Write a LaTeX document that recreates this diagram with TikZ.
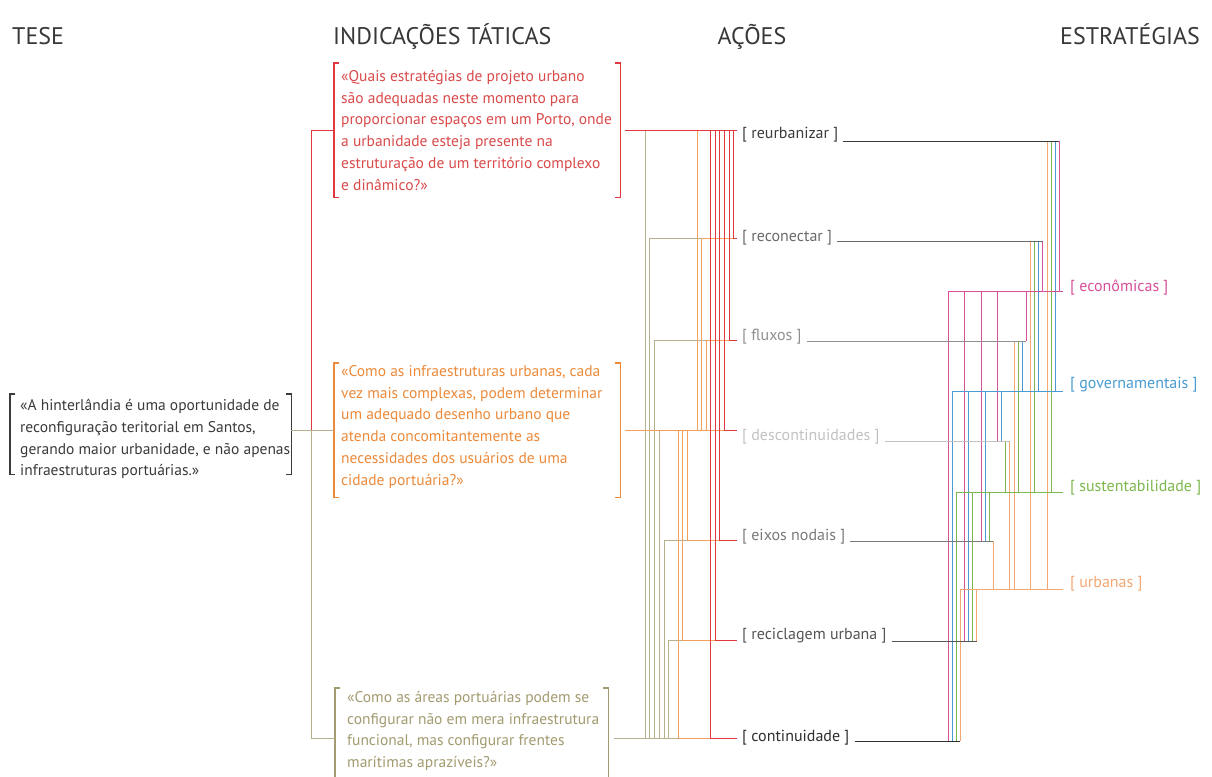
\documentclass[tikz,border=0pt]{standalone}
\usepackage{fontspec}
\setmainfont{PT Sans}
\usepackage{graphicx}
\definecolor{cred}{HTML}{E0383E}
\definecolor{credt}{HTML}{D94A4A}
\definecolor{cort}{HTML}{EC8A3A}
\definecolor{corl}{HTML}{F2A05A}
\definecolor{colt}{HTML}{A39B70}
\definecolor{coll}{HTML}{B7B08C}
\definecolor{ctese}{HTML}{3A3A3A}
\definecolor{cmag}{HTML}{D6509A}
\definecolor{cblue}{HTML}{4A9BD0}
\definecolor{cgreen}{HTML}{7DB84E}
\definecolor{curb}{HTML}{F3A873}
\definecolor{ca1}{HTML}{3C3C3C}
\definecolor{ca2}{HTML}{6A6A6A}
\definecolor{ca3}{HTML}{909090}
\definecolor{ca4}{HTML}{C2C2C2}
\definecolor{ca5}{HTML}{7A7A7A}
\definecolor{ca6}{HTML}{555555}
\definecolor{ca7}{HTML}{2E2E2E}
\begin{document}
\begin{tikzpicture}[x=1pt,y=-1pt,line cap=butt,
  ttl/.style={font=\fontsize{24}{24}\selectfont, text=black!78, inner sep=0},
  qtext/.style={font=\fontsize{15.5}{21.8}\selectfont, align=left, inner sep=0, anchor=north west},
  qbox/.style={inner sep=0, anchor=north west},
  brk/.style={line width=1.6pt},
  act/.style={font=\fontsize{16}{16}\selectfont, inner sep=0, anchor=west},
  ln/.style={line width=1pt},
  redl/.style={ln, draw=cred},
  orl/.style={ln, draw=corl},
  oll/.style={ln, draw=coll}]
\fill[white] (0,0) rectangle (1212,776);
\useasboundingbox (0,0) rectangle (1212,776);

% titles
\node[ttl, anchor=base west] (tTese) at (12,45) {TESE};
\node[ttl, anchor=base west] (tInd) at (333,45) {INDICAÇÕES TÁTICAS};
\node[ttl, anchor=base] (tAcoes) at (752,45) {AÇÕES};
\node[ttl, anchor=base east] (tEst) at (1200,45) {ESTRATÉGIAS};

% boxes (bracket frames)
\node[qbox, minimum width=281pt, minimum height=80pt] (tese) at (10,394) {};
\node[qbox, minimum width=286pt, minimum height=134pt] (q1) at (334,63) {};
\node[qbox, minimum width=286pt, minimum height=134pt] (q2) at (334,363) {};
\node[qbox, minimum width=273pt, minimum height=100pt] (q3) at (335,688) {};

% texts
\node[qtext, text=ctese] (teseT) at (20,399) {«A hinterlândia é uma oportunidade de\\reconfiguração teritorial em Santos,\\gerando maior urbanidade, e não apenas\\infraestruturas portuárias.»};
\node[qtext, text=credt] (q1T) at (341,70) {«Quais estratégias de projeto urbano\\são adequadas neste momento para\\proporcionar espaços em um Porto, onde\\a urbanidade esteja presente na\\estruturação de um território complexo\\e dinâmico?»};
\node[qtext, text=cort] (q2T) at (341,365) {«Como as infraestruturas urbanas, cada\\vez mais complexas, podem determinar\\um adequado desenho urbano que\\atenda concomitantemente as\\necessidades dos usuários de uma\\cidade portuária?»};
\node[qtext, text=colt] (q3T) at (347,691) {«Como as áreas portuárias podem se\\configurar não em mera infraestrutura\\funcional, mas configurar frentes\\marítimas aprazíveis?»};

% brackets
\foreach \b/\c in {tese/ctese, q1/cred, q2/cort, q3/colt}{
  \draw[brk, draw=\c] ([xshift=5pt]\b.north west) -| (\b.south west) -- ++(5,0);
  \draw[brk, draw=\c] ([xshift=-5pt]\b.north east) -| (\b.south east) -- ++(-5,0);
}

% thesis spine
\coordinate (spine) at (311,430);
\draw[redl] (spine) |- (q1.west);
\draw[oll] (spine) |- (q3.west);
\draw[oll] (tese.east |- spine) -- (q2.west |- spine);

% action labels
\node[act, text=ca1] (a1) at (742,135) {[ reurbanizar ]};
\node[act, text=ca2] (a2) at (742,238) {[ reconectar ]};
\node[act, text=ca3] (a3) at (742,337) {[ fluxos ]};
\node[act, text=ca4] (a4) at (742,437) {[ descontinuidades ]};
\node[act, text=ca5] (a5) at (742,537) {[ eixos nodais ]};
\node[act, text=ca6] (a6) at (742,636) {[ reciclagem urbana ]};
\node[act, text=ca7] (a7) at (742,738) {[ continuidade ]};

% left attach points
\coordinate (aL1) at (737,130);
\coordinate (aL2) at (737,238);
\coordinate (aL3) at (737,340);
\coordinate (aL4) at (737,430);
\coordinate (aL5) at (737,540);
\coordinate (aL6) at (737,640);
\coordinate (aL7) at (737,738);

% olive (question 3)
\draw[oll] ([xshift=6pt]q3.east |- aL7) -- (aL7);
\foreach \x/\t in {645/aL1,649/aL2,654/aL3,659/aL4,664/aL5,668/aL6}
  \draw[oll] (aL7 -| \x,0) |- (\t);
% orange (question 2)
\draw[orl] ([xshift=5pt]q2.east |- aL4) -- (aL4);
\foreach \x/\t in {697/aL1,701/aL2,706/aL3,687/aL5,682/aL6,678/aL7}
  \draw[orl] (aL4 -| \x,0) |- (\t);
% red (question 1)
\foreach \x/\t in {733/aL2,729/aL3,724/aL4,719/aL5,715/aL6,710/aL7}
  \draw[redl] (aL1 -| \x,0) |- (\t);
\draw[redl] ([xshift=5pt]q1.east |- aL1) -- (aL1);

% strategy labels
\node[act, text=cmag] (s1) at (1070,287) {[ econômicas ]};
\node[act, text=cblue] (s2) at (1070,385) {[ governamentais ]};
\node[act, text=cgreen] (s3) at (1070,488) {[ sustentabilidade ]};
\node[act, text=curb] (s4) at (1070,584) {[ urbanas ]};
\coordinate (sR1) at (1063,291);
\coordinate (sR2) at (1063,391);
\coordinate (sR3) at (1063,492);
\coordinate (sR4) at (1063,589);

% action right ends
\coordinate (aR1) at (1059,141);
\coordinate (aR2) at (1042.5,241);
\coordinate (aR3) at (1026,341);
\coordinate (aR4) at (1009.5,441);
\coordinate (aR5) at (993,541);
\coordinate (aR6) at (976.5,641);
\coordinate (aR7) at (960,741);

% verticals actions -> strategies
\foreach \x/\a/\s/\c in {
  1047/aR1/sR4/curb, 1051/aR1/sR3/cgreen, 1055/aR1/sR2/cblue, 1059/aR1/sR1/cmag,
  1030.5/aR2/sR4/curb, 1034.5/aR2/sR3/cgreen, 1038.5/aR2/sR2/cblue, 1042.5/aR2/sR1/cmag,
  1014/aR3/sR4/curb, 1018/aR3/sR3/cgreen, 1022/aR3/sR2/cblue, 1026/aR3/sR1/cmag,
  997.5/aR4/sR1/cmag, 1001.5/aR4/sR2/cblue, 1005.5/aR4/sR3/cgreen, 1009.5/aR4/sR4/curb,
  981/aR5/sR1/cmag, 985/aR5/sR2/cblue, 989/aR5/sR3/cgreen, 993/aR5/sR4/curb,
  964.5/aR6/sR1/cmag, 968.5/aR6/sR2/cblue, 972.5/aR6/sR3/cgreen, 976.5/aR6/sR4/curb,
  948/aR7/sR1/cmag, 952/aR7/sR2/cblue, 956/aR7/sR3/cgreen, 960/aR7/sR4/curb}
  \draw[ln, draw=\c] (\a -| \x,0) -- (\s -| \x,0);

% strategy horizontals
\draw[ln, draw=cmag] (sR1 -| 948,0) -- (sR1);
\draw[ln, draw=cblue] (sR2 -| 952,0) -- (sR2);
\draw[ln, draw=cgreen] (sR3 -| 956,0) -- (sR3);
\draw[ln, draw=curb] (sR4 -| 960,0) -- (sR4);

% action right lines
\foreach \i in {1,...,7}
  \draw[ln, draw=ca\i] ([xshift=5pt]a\i.east |- aR\i) -- (aR\i);
\end{tikzpicture}
\end{document}
